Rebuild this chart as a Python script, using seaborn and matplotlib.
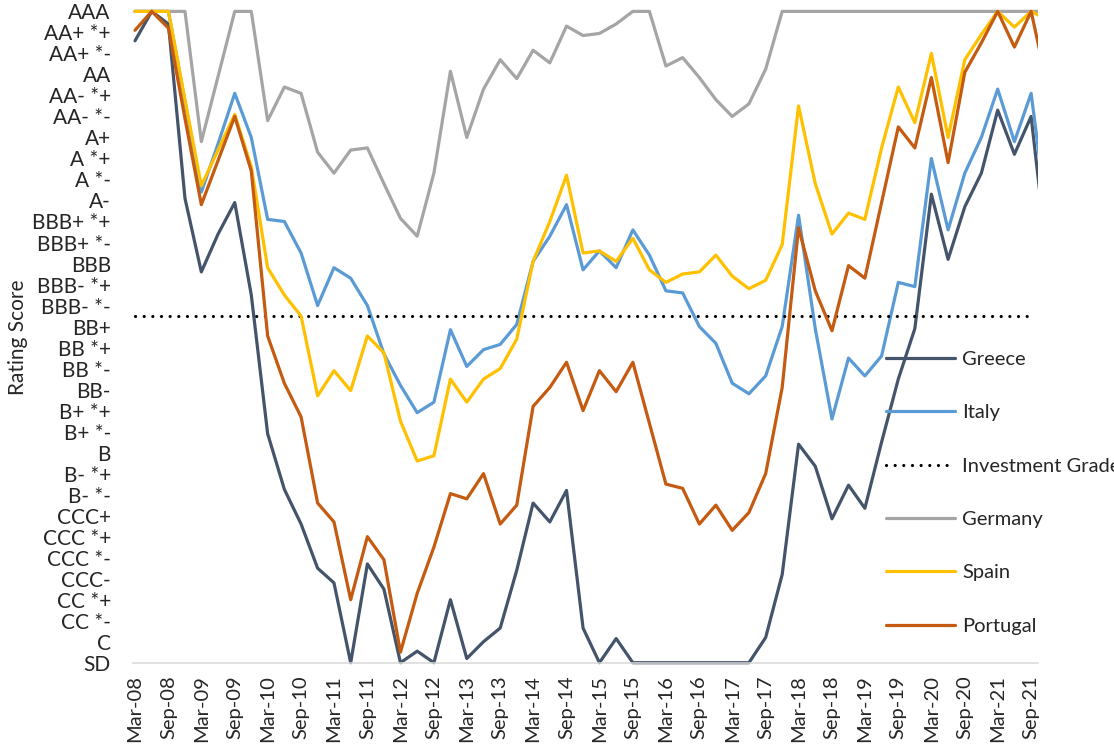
import pandas as pd
import matplotlib
matplotlib.use("Agg")
import matplotlib.pyplot as plt
import seaborn as sns

# quarterly observations, Mar-08 .. Dec-21 (last one falls past the axis end)
quarters = pd.date_range("2008-03-01", periods=56, freq="3MS")

rating_labels = ["SD", "C", "CC *-", "CC *+", "CCC-", "CCC *-", "CCC *+", "CCC+",
                 "B- *-", "B- *+", "B", "B+ *-", "B+ *+", "BB-", "BB *-", "BB *+",
                 "BB+", "BBB- *-", "BBB- *+", "BBB", "BBB+ *-", "BBB+ *+", "A-",
                 "A *-", "A *+", "A+", "AA- *-", "AA- *+", "AA", "AA+ *-", "AA+ *+", "AAA"]

tick_labels = ["Mar-08", "Sep-08", "Mar-09", "Sep-09", "Mar-10", "Sep-10", "Mar-11",
               "Sep-11", "Mar-12", "Sep-12", "Mar-13", "Sep-13", "Mar-14", "Sep-14",
               "Mar-15", "Sep-15", "Mar-16", "Sep-16", "Mar-17", "Sep-17", "Mar-18",
               "Sep-18", "Mar-19", "Sep-19", "Mar-20", "Sep-20", "Mar-21", "Sep-21"]

greece = [29.6, 31, 30.4, 22.1, 18.6, 20.4, 21.9, 17.5, 10.9, 8.25,
          6.6, 4.5, 3.8, 0, 4.7, 3.5, 0, 0.55, 0, 3.0,
          0.2, 1.0, 1.65, 4.4, 7.6, 6.7, 8.2, 1.65, 0, 1.15,
          0, 0, 0, 0, 0, 0, 0, 0, 1.2, 4.2,
          10.4, 9.35, 6.85, 8.45, 7.35, 10.5, 13.5, 15.9, 22.3, 19.2,
          21.7, 23.3, 26.3, 24.2, 26.0, 19.1]

italy = [31, 31, 31, 26.7, 22.4, 24.7, 27.1, 25.0, 21.1, 21.0,
         19.5, 17.0, 18.8, 18.3, 17.0, 14.7, 13.2, 11.9, 12.4, 15.85,
         14.1, 14.9, 15.15, 16.1, 19.1, 20.3, 21.8, 18.7, 19.6, 18.8,
         20.6, 19.4, 17.7, 17.6, 16.0, 15.2, 13.3, 12.8, 13.65, 16.0,
         21.3, 15.9, 11.6, 14.5, 13.65, 14.6, 18.1, 17.9, 24.0, 20.6,
         23.3, 25.0, 27.3, 24.8, 27.1, 21.0]

germany = [31, 31, 31, 31, 24.8, 27.9, 31, 31, 25.8, 27.4,
           27.1, 24.3, 23.3, 24.4, 24.5, 22.8, 21.15, 20.3, 23.3, 28.15,
           25.0, 27.3, 28.7, 27.8, 29.15, 28.55, 30.3, 29.85, 29.95, 30.4,
           31, 31, 28.4, 28.8, 27.85, 26.8, 26.0, 26.6, 28.25, 31,
           31, 31, 31, 31, 31, 31, 31, 31, 31, 31,
           31, 31, 31, 31, 31, 31]

spain = [31, 31, 31, 26.8, 22.7, 24.4, 26.1, 23.6, 18.8, 17.5,
         16.5, 12.7, 13.9, 12.95, 15.55, 14.75, 11.5, 9.6, 9.85, 13.5,
         12.4, 13.5, 14.0, 15.4, 19.1, 21.0, 23.2, 19.5, 19.6, 19.1,
         20.2, 18.7, 18.1, 18.5, 18.6, 19.4, 18.4, 17.8, 18.2, 19.9,
         26.5, 22.8, 20.4, 21.4, 21.1, 24.5, 27.4, 25.7, 29.0, 25.0,
         28.7, 29.9, 31, 30.25, 31, 30.6]

portugal = [30.1, 31, 30.2, 25.9, 21.8, 23.9, 26.0, 23.4, 15.55, 13.3,
            11.7, 7.6, 6.7, 3.0, 6.0, 4.9, 0.5, 3.3, 5.5, 8.05,
            7.8, 9.0, 6.6, 7.5, 12.2, 13.1, 14.3, 12.0, 13.9, 12.9,
            14.3, 11.4, 8.5, 8.3, 6.6, 7.5, 6.3, 7.15, 9.0, 13.1,
            20.7, 17.7, 15.8, 18.9, 18.3, 21.9, 25.5, 24.5, 27.85, 23.8,
            28.1, 29.5, 31, 29.3, 31, 27.4]

investment_grade = 16.5  # between BB+ and BBB- *-

sns.set_style("white")
plt.rcParams['font.family'] = ['Lato', 'DejaVu Sans']
FS = 14.5

fig = plt.figure(figsize=(11.14, 7.51), dpi=100)
ax = fig.add_axes([0.1194, 0.1142, 0.8124, 0.874])

lw = 2.3
sns.lineplot(x=quarters, y=greece, color="#44546A", lw=lw, label="Greece", ax=ax)
sns.lineplot(x=quarters, y=italy, color="#5B9BD5", lw=lw, label="Italy", ax=ax)
sns.lineplot(x=quarters[:55], y=[investment_grade] * 55, color="black", lw=lw,
             linestyle=(0, (0.01, 2.7)), dash_capstyle="round",
             label="Investment Grade", ax=ax)
sns.lineplot(x=quarters, y=germany, color="#A5A5A5", lw=lw, label="Germany", ax=ax)
sns.lineplot(x=quarters, y=spain, color="#FFC000", lw=lw, label="Spain", ax=ax)
sns.lineplot(x=quarters, y=portugal, color="#C55A11", lw=lw, label="Portugal", ax=ax)

ax.set_ylim(-0.12, 31.12)
ax.set_yticks(range(len(rating_labels)))
ax.set_yticklabels(rating_labels)
ax.tick_params(axis="y", length=0, pad=16, labelsize=15)

ax.set_xlim(quarters[0] - pd.Timedelta(days=11), quarters[54] + pd.Timedelta(days=38))
ax.set_xticks(quarters[::2][:len(tick_labels)])
ax.set_xticklabels(tick_labels)
ax.tick_params(axis="x", direction="out", length=4, width=1, color="#D9D9D9",
               pad=5, labelrotation=90, labelsize=FS)

for s in ["left", "right", "top"]:
    ax.spines[s].set_visible(False)
ax.spines["bottom"].set_position(("data", 0))
ax.spines["bottom"].set_color("#D9D9D9")
ax.spines["bottom"].set_linewidth(1.1)

ax.set_xlabel("")
ax.set_ylabel("Rating Score", fontsize=15)
ax.yaxis.set_label_coords(-0.116, 0.5)

ax.legend(loc="center left", bbox_to_anchor=(0.8317, 0.2628), frameon=False,
          fontsize=FS, handlelength=3.45, handletextpad=0.35, labelspacing=1.8,
          borderpad=0, borderaxespad=0)

fig.savefig("out.png", dpi=100)
